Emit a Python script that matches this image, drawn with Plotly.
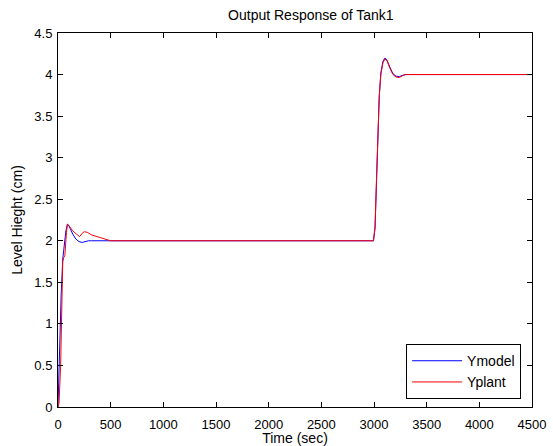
import plotly.graph_objects as go

# Ymodel (blue)
t_model = [0, 10, 20, 30, 45, 60, 75, 90, 100, 115, 140, 170, 200, 230, 260, 290, 320,
           2995, 3010, 3025, 3040, 3050, 3065, 3085, 3105, 3125, 3150, 3180, 3210, 3240, 3270, 3300, 4500]
y_model = [0, 0.5, 1.0, 1.35, 1.78, 1.95, 2.12, 2.2, 2.19, 2.15, 2.08, 2.02, 1.99, 1.98, 1.99, 2.0, 2.0,
           2.0, 2.15, 2.75, 3.4, 3.75, 4.02, 4.16, 4.2, 4.17, 4.09, 4.01, 3.98, 3.975, 3.99, 4.0, 4.0]

# Yplant (red)
t_plant = [0, 10, 25, 35, 45, 55, 65, 80, 90, 110, 140, 175, 205, 230, 250, 280, 320, 370, 420, 470, 500,
           2995, 3010, 3025, 3040, 3050, 3065, 3085, 3105, 3125, 3150, 3180, 3210, 3240, 3270, 3300, 4500]
y_plant = [0, 0.05, 0.5, 1.2, 1.75, 1.8, 1.82, 2.1, 2.2, 2.17, 2.12, 2.08, 2.05, 2.09, 2.11, 2.1, 2.07, 2.05, 2.03, 2.01, 2.0,
           2.0, 2.18, 2.8, 3.42, 3.74, 4.0, 4.14, 4.19, 4.16, 4.08, 4.0, 3.97, 3.965, 3.985, 4.0, 4.0]

x_ticks = [0, 500, 1000, 1500, 2000, 2500, 3000, 3500, 4000, 4500]
y_ticks = [0, 0.5, 1, 1.5, 2, 2.5, 3, 3.5, 4, 4.5]

font = "Liberation Sans, Arial, sans-serif"
FS_TICK = 13
FS = 14

fig = go.Figure()
fig.add_trace(go.Scatter(x=t_model, y=y_model, mode="lines", name="Ymodel",
                         line=dict(color="#0000ff", width=1)))
fig.add_trace(go.Scatter(x=t_plant, y=y_plant, mode="lines", name="Yplant",
                         line=dict(color="#ff0000", width=1)))

axis_common = dict(showline=True, linecolor="black", linewidth=1, mirror="allticks",
                   ticks="inside", ticklen=5, tickcolor="black", showgrid=False, zeroline=False,
                   automargin=False,
                   tickfont=dict(family=font, size=FS_TICK, color="black"))

fig.update_layout(
    width=553, height=446,
    margin=dict(l=58, r=21, t=33, b=39),
    paper_bgcolor="white", plot_bgcolor="white",
    title=dict(text="Output Response of Tank1", x=295 / 553, xref="paper", xanchor="center",
               y=1 - 15 / 446, yanchor="middle",
               font=dict(family=font, size=FS, color="black")),
    xaxis=dict(range=[0, 4500], tickvals=x_ticks, ticklabelstandoff=5,
               title=dict(text="Time (sec)", font=dict(family=font, size=FS, color="black"), standoff=0),
               **axis_common),
    yaxis=dict(range=[0, 4.5], tickvals=y_ticks, ticklabelstandoff=2,
               title=dict(text="Level Hieght (cm)", font=dict(family=font, size=FS, color="black"), standoff=8),
               **axis_common),
    legend=dict(x=0.977, y=0.021, xanchor="right", yanchor="bottom",
                bordercolor="black", borderwidth=1, bgcolor="white",
                font=dict(family=font, size=FS, color="black"),
                itemwidth=50, tracegroupgap=0),
    showlegend=True,
)

fig.write_html("out.html")
